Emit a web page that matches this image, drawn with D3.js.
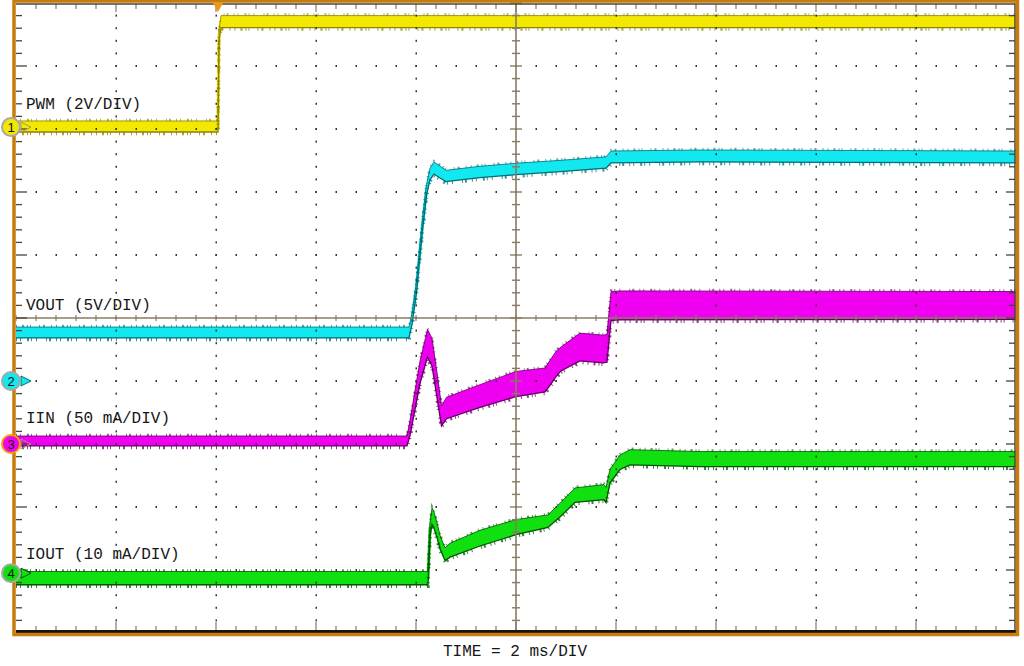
<!DOCTYPE html>
<html>
<head>
<meta charset="utf-8">
<script src="https://cdn.jsdelivr.net/npm/d3@7"></script>
<style>
  body { margin: 0; background: #fff; }
  text { font-family: "Liberation Mono", "DejaVu Sans Mono", monospace; }
</style>
</head>
<body>
<script>
// scope screen: 2 ms/div horizontally, 10 x 10 divisions, trigger at center
const timeRange = [-10, 10];
const divRange = [-5, 5];

// CH1 PWM, volts
const pwmTime = [-10, -5.96, -5.94, -5.9, 10];
const pwmValue = [0.02, 0.02, 2.9, 3.35, 3.35];
const pwmRipple = [0.35, 0.35, 0.35, 0.38, 0.38];

// CH2 VOUT, volts
const voutTime = [-10, -2.14, -2.08, -1.99, -1.92, -1.86, -1.79, -1.72, -1.64, -1.52, -1.4, -0.72, 0, 0.88, 1.8, 1.9, 3.68, 10];
const voutValue = [3.85, 3.85, 4.92, 7.48, 10.4, 12.78, 15.16, 16.43, 16.9, 16.59, 16.27, 16.59, 16.83, 17.06, 17.34, 17.78, 17.86, 17.78];
const voutRipple = [0.87, 0.87, 0.87, 0.87, 0.87, 0.87, 0.87, 0.9, 0.95, 0.95, 0.9, 0.9, 0.9, 0.9, 0.9, 0.95, 0.95, 0.95];

// CH3 IIN, mA
const iinTime = [-10, -2.18, -2.12, -1.92, -1.77, -1.68, -1.58, -1.49, -1.39, -0.72, 0, 0.58, 0.68, 0.8, 0.9, 1.28, 1.74, 1.82, 1.9, 2.08, 10];
const iinValue = [2.4, 2.4, 12.7, 57, 80, 73, 46.8, 22.2, 28.6, 38.1, 47.6, 50.8, 56.5, 63.5, 67.5, 77, 75.4, 76, 109.5, 110, 110];
const iinRipple = [7.9, 7.9, 12, 18, 22, 22, 20, 16, 17, 18, 20, 19, 20, 20, 19, 22, 22, 22, 23, 23, 22];

// CH4 IOUT, mA
const ioutTime = [-10, -1.76, -1.72, -1.68, -1.64, -1.58, -1.52, -1.42, -1.32, -0.72, 0, 0.64, 0.88, 1.18, 1.76, 1.8, 1.88, 2.08, 2.28, 3.68, 10];
const ioutValue = [-0.79, -0.79, 6.83, 9.05, 8.41, 6.83, 4.92, 3.02, 3.65, 5.56, 7.3, 8.25, 10.0, 12.38, 12.86, 12.4, 15.4, 17.6, 18.4, 18.1, 18.1];
const ioutRipple = [2.1, 2.1, 2.2, 2.6, 2.6, 2.4, 2.2, 2.0, 2.2, 2.5, 2.4, 2.0, 2.2, 2.3, 2.4, 2.4, 2.2, 2.3, 2.4, 2.4, 2.4];

const channelNames = ["PWM (2V/DIV)", "VOUT (5V/DIV)", "IIN (50 mA/DIV)", "IOUT (10 mA/DIV)"];
const channelPerDiv = [2, 5, 50, 10];
const channelGround = [3.03, -1.0, -2.0, -4.05]; // ground marker, divisions from center
const triggerTime = -5.96;
const timeLabel = "TIME = 2 ms/DIV";

const svg = d3.select("body").append("svg")
  .attr("width", 1024).attr("height", 666);

const x = d3.scaleLinear(timeRange, [16, 1016]);
const y = d3.scaleLinear(divRange, [633, 3]);

const channels = [
  { t: pwmTime, v: pwmValue, r: pwmRipple, fill: "#f2e800", edge: "#8c8200", labelY: 109, ring: "#a8a8a8", arrowFilled: false },
  { t: voutTime, v: voutValue, r: voutRipple, fill: "#12e8f0", edge: "#006e74", labelY: 310, ring: "#a8a8a8", arrowFilled: true },
  { t: iinTime, v: iinValue, r: iinRipple, fill: "#f000f0", edge: "#640064", labelY: 423, ring: "#f0a000", arrowFilled: false },
  { t: ioutTime, v: ioutValue, r: ioutRipple, fill: "#10e010", edge: "#005400", labelY: 559, ring: "#a8a8a8", arrowFilled: true }
].map((c, i) => ({
  ...c,
  num: i + 1,
  name: channelNames[i],
  perDiv: channelPerDiv[i],
  ground: channelGround[i],
  pts: c.t.map((t, j) => ({ t, v: c.v[j], r: c.r[j] }))
}));

// traces
const traces = svg.append("g");
const spikeDash = ["1,3,1,6,2,2,1,4,1,9,1,2,2,5", "1,5,2,3,1,2,1,8,1,3,2,6,1,4"];
channels.forEach((c, i) => {
  const toDiv = v => c.ground + v / c.perDiv;
  const yTop = d => y(toDiv(d.v + d.r / 2));
  const yBot = d => y(toDiv(d.v - d.r / 2));
  const band = d3.area().x(d => x(d.t)).y0(yBot).y1(yTop);
  const line = fy => d3.line().x(d => x(d.t)).y(fy);
  traces.append("path").attr("d", band(c.pts)).attr("fill", c.fill);
  traces.append("path").attr("d", line(d => y(toDiv(d.v)))(c.pts)).attr("fill", "none")
    .attr("stroke", c.fill).attr("stroke-width", 3);
  // ragged edges: short dashes just outside the band
  traces.append("path").attr("d", line(d => yTop(d) - 1)(c.pts)).attr("fill", "none")
    .attr("stroke", c.edge).attr("stroke-width", 2.5).attr("stroke-opacity", 0.6)
    .attr("stroke-dasharray", spikeDash[i % 2]);
  traces.append("path").attr("d", line(d => yBot(d) + 1.5)(c.pts)).attr("fill", "none")
    .attr("stroke", c.edge).attr("stroke-width", 3.5).attr("stroke-opacity", 0.75)
    .attr("stroke-dasharray", spikeDash[(i + 1) % 2]);
  traces.append("path").attr("d", line(yTop)(c.pts)).attr("fill", "none")
    .attr("stroke", c.edge).attr("stroke-width", 1).attr("stroke-opacity", 0.8);
  traces.append("path").attr("d", line(yBot)(c.pts)).attr("fill", "none")
    .attr("stroke", c.edge).attr("stroke-width", 1.3);
});

// graticule drawn over the traces
const grid = svg.append("g");
const minorT = d3.range(-10, 10.001, 0.4);
const minorD = d3.range(-5, 5.001, 0.2);
const majorT = d3.range(-8, 8.001, 2).filter(t => t !== 0);
const majorD = d3.range(-4, 4.001, 1).filter(d => d !== 0);

majorD.forEach(d => {
  grid.selectAll(null).data(minorT.slice(1, -1)).join("rect")
    .attr("x", t => x(t) - 0.5).attr("y", y(d) - 1)
    .attr("width", 1.5).attr("height", 2).attr("fill", "#3a3328");
});
majorT.forEach(t => {
  grid.selectAll(null).data(minorD.slice(1, -1)).join("rect")
    .attr("x", x(t) - 0.5).attr("y", d => y(d) - 1)
    .attr("width", 1.5).attr("height", 2).attr("fill", "#3a3328");
});

const axisColor = "#8a7b62";
// center crosshair
grid.append("line").attr("x1", x(-10)).attr("x2", x(10)).attr("y1", y(0)).attr("y2", y(0))
  .attr("stroke", axisColor).attr("stroke-width", 1.6);
grid.append("line").attr("x1", x(0)).attr("x2", x(0)).attr("y1", y(5)).attr("y2", y(-5))
  .attr("stroke", axisColor).attr("stroke-width", 1.6);
grid.selectAll(null).data(minorT).join("line")
  .attr("x1", t => x(t)).attr("x2", t => x(t))
  .attr("y1", y(0) - 3).attr("y2", y(0) + 3)
  .attr("stroke", axisColor).attr("stroke-width", 1.2);
grid.selectAll(null).data(minorD).join("line")
  .attr("y1", d => y(d)).attr("y2", d => y(d))
  .attr("x1", d => x(0) - (Number.isInteger(+d.toFixed(6)) ? 6 : 4))
  .attr("x2", d => x(0) + (Number.isInteger(+d.toFixed(6)) ? 6 : 4))
  .attr("stroke", axisColor).attr("stroke-width", 1.4);

// border ticks
const isMajorT = t => Math.abs(t / 2 - Math.round(t / 2)) < 1e-6;
const isMajorD = d => Math.abs(d - Math.round(d)) < 1e-6;
grid.selectAll(null).data(minorT.slice(1, -1)).join("line") // top
  .attr("x1", t => x(t)).attr("x2", t => x(t))
  .attr("y1", 4).attr("y2", t => isMajorT(t) ? 12 : 9)
  .attr("stroke", axisColor).attr("stroke-width", 1.2);
grid.selectAll(null).data(minorT.slice(1, -1)).join("line") // bottom
  .attr("x1", t => x(t)).attr("x2", t => x(t))
  .attr("y1", 631).attr("y2", t => isMajorT(t) ? 622 : 626)
  .attr("stroke", axisColor).attr("stroke-width", 1.2);
grid.selectAll(null).data(minorD.slice(1, -1)).join("line") // left
  .attr("y1", d => y(d)).attr("y2", d => y(d))
  .attr("x1", 16).attr("x2", d => isMajorD(d) ? 27 : 22)
  .attr("stroke", "#4a4438").attr("stroke-width", 1.3);
grid.selectAll(null).data(minorD.slice(1, -1)).join("line") // right
  .attr("y1", d => y(d)).attr("y2", d => y(d))
  .attr("x1", 1015).attr("x2", d => isMajorD(d) ? 1006 : 1009)
  .attr("stroke", "#4a4438").attr("stroke-width", 1.3);

// frame
svg.append("line").attr("x1", 16).attr("x2", 1015).attr("y1", 4).attr("y2", 4)
  .attr("stroke", "#4a4438").attr("stroke-width", 1.5);
svg.append("line").attr("x1", 1015).attr("x2", 1015).attr("y1", 3).attr("y2", 632)
  .attr("stroke", "#4a4438").attr("stroke-width", 1.5);
svg.append("line").attr("x1", 16).attr("x2", 1016).attr("y1", 631.5).attr("y2", 631.5)
  .attr("stroke", "#141414").attr("stroke-width", 3);
svg.append("rect").attr("x", 14).attr("y", 1).attr("width", 1003.5).attr("height", 633.5)
  .attr("fill", "none").attr("stroke", "#c87c0c").attr("stroke-width", 3.5);

// trigger marker
const tx = x(triggerTime);
svg.append("path").attr("d", `M${tx - 5},3 L${tx + 5},3 L${tx},12 Z`)
  .attr("fill", "#f0960f");

// channel labels and ground markers
svg.selectAll(".lab").data(channels).join("text")
  .attr("x", 26).attr("y", c => c.labelY)
  .attr("font-size", 16).attr("fill", "#161616")
  .text(c => c.name);

const markers = svg.selectAll(".mk").data(channels).join("g")
  .attr("transform", c => `translate(0,${y(c.ground)})`);
markers.append("path")
  .attr("d", "M21,-5 L31,0 L21,5 Z")
  .attr("fill", c => c.arrowFilled ? c.fill : "none")
  .attr("stroke", c => c.arrowFilled ? c.edge : "#a09a70")
  .attr("stroke-width", 1);
markers.append("circle").attr("cx", 11).attr("cy", 0).attr("r", 9)
  .attr("fill", c => c.fill).attr("stroke", c => c.ring).attr("stroke-width", 2);
markers.append("text").attr("x", 11).attr("y", 4.5)
  .attr("text-anchor", "middle").attr("font-size", 13)
  .style("font-family", "'Liberation Sans', Arial, sans-serif")
  .attr("fill", "#111").text(c => c.num);

svg.append("text").attr("x", 515).attr("y", 656)
  .attr("text-anchor", "middle").attr("font-size", 16).attr("fill", "#161616")
  .text(timeLabel);
</script>
</body>
</html>
